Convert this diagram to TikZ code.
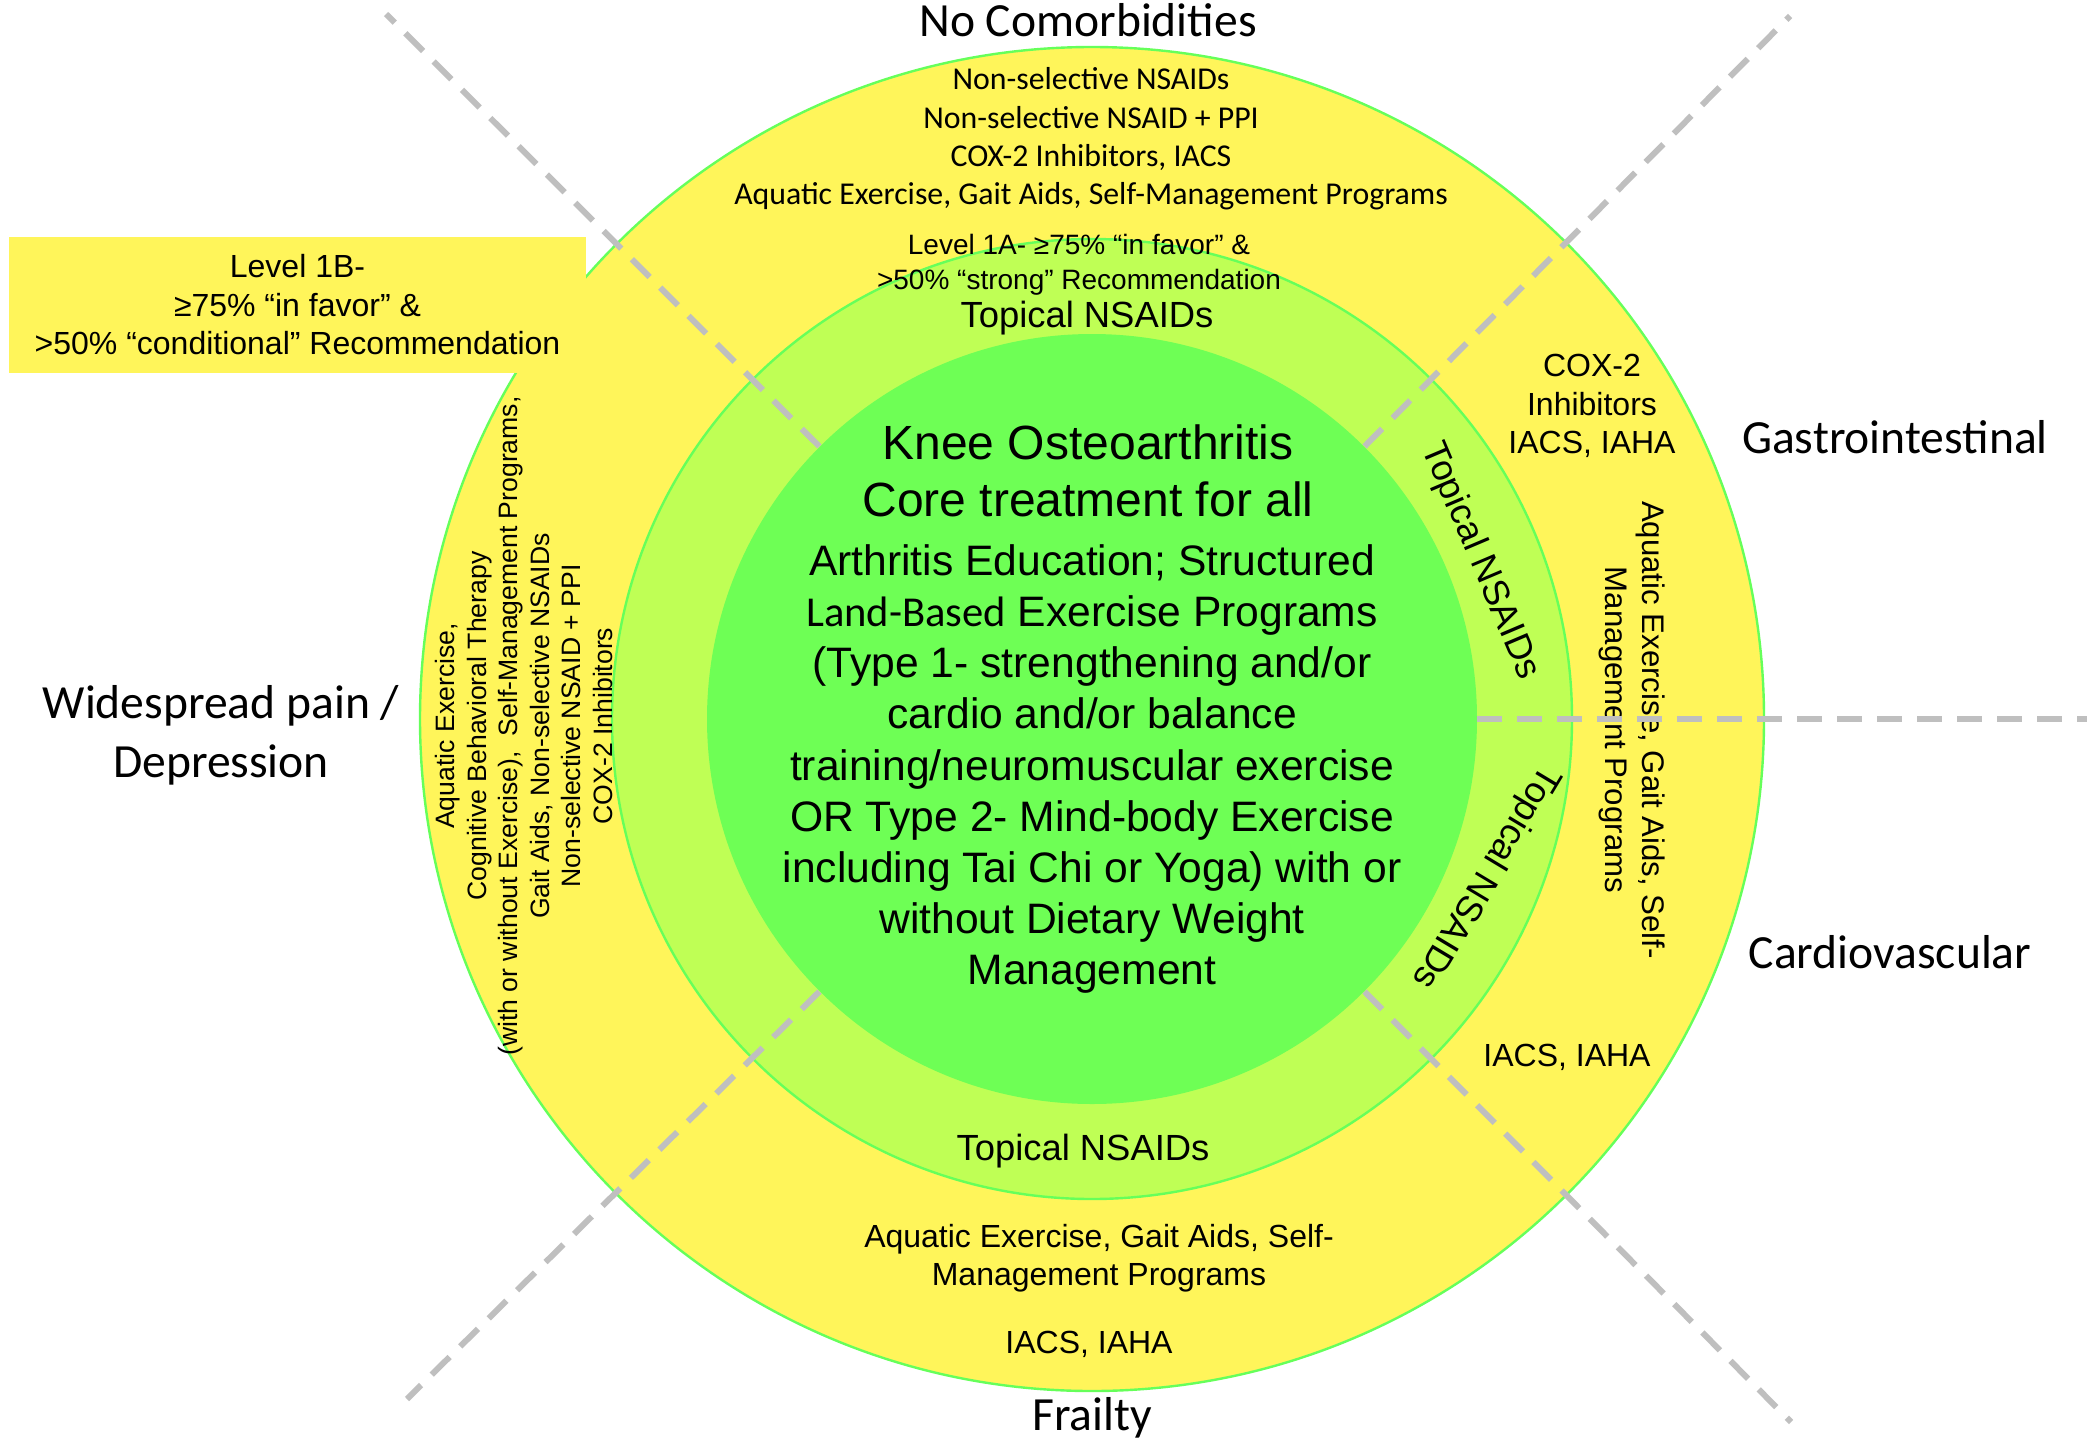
\documentclass[tikz,border=0pt]{standalone}
\usepackage{fontspec}
\setmainfont{Liberation Sans}
\newfontfamily\calibri{Carlito}
\definecolor{ringyellow}{HTML}{FFF55A}
\definecolor{ringlight}{HTML}{BFFF55}
\definecolor{ringcore}{HTML}{6EFF55}
\definecolor{ringedge}{HTML}{66FF5A}
\definecolor{dashgray}{HTML}{BFBFBF}
\begin{document}
\begin{tikzpicture}[x=0.5pt,y=-0.5pt,
  ring/.style={circle, inner sep=0pt, draw=ringedge, line width=1.2pt},
  divider/.style={draw=dashgray, line width=3pt, dash pattern=on 12.5pt off 7.5pt},
  lbl/.style={font=\calibri\fontsize{23.8pt}{29.5pt}\selectfont, align=center, inner sep=0pt},
  txt/.style={align=center, inner sep=0pt},
  topical/.style={txt, font=\fontsize{18.2pt}{21.8pt}\selectfont},
  small/.style={txt, font=\fontsize{16pt}{19.25pt}\selectfont},
]
\useasboundingbox[fill=white] (0,0) rectangle (2087,1440);

% rings
\node[ring, fill=ringyellow, minimum size=672pt] (outer) at (1092,719) {};
\node[ring, fill=ringlight, minimum size=480pt] (middle) at (1092,719) {};
\node[circle, inner sep=0pt, fill=ringcore, minimum size=385pt] (inner) at (1092,719) {};

% level 1B box
\node[fill=ringyellow, inner sep=0pt, minimum width=288.5pt, minimum height=68pt,
      align=center, font=\fontsize{16pt}{19.25pt}\selectfont] (lvlB) at (297.5,305)
  {Level 1B-\\≥75\% “in favor” \&\\>50\% “conditional” Recommendation};

% outer labels
\node[lbl] (noCom) at (1088,20) {No Comorbidities};
\node[lbl] (gastro) at (1895,437) {Gastrointestinal};
\node[lbl] (cardio) at (1890,952) {Cardiovascular};
\node[lbl] (frail) at (1092,1418) {Frailty};
\node[lbl] (wide) at (221,735) {Widespread pain /\\Depression};

% top of outer ring
\node[txt, font=\calibri\fontsize{15.9pt}{19.2pt}\selectfont] (topList) at (1091,139)
  {Non-selective NSAIDs\\Non-selective NSAID + PPI\\COX-2 Inhibitors, IACS\\Aquatic Exercise, Gait Aids, Self-Management Programs};
\node[txt, font=\fontsize{14pt}{17.3pt}\selectfont] (lvlA) at (1079,265)
  {Level 1A- ≥75\% “in favor” \&\\>50\% “strong” Recommendation};

% topical NSAIDs
\node[topical] (topTop) at (1087,318) {Topical NSAIDs};
\node[topical] (topBot) at (1083,1151) {Topical NSAIDs};
\node[topical, rotate=-67] (topRU) at (1480,561) {Topical NSAIDs};
\node[topical, rotate=-121] (topRL) at (1485,877) {Topical NSAIDs};

% core
\node[txt, font=\fontsize{24pt}{28.5pt}\selectfont] (title) at (1088,471)
  {Knee Osteoarthritis\\Core treatment for all};
\node[txt, font=\fontsize{21.3pt}{25.6pt}\selectfont] (core) at (1092,769)
  {Arthritis Education; Structured\\{\calibri Land-Based} Exercise Programs\\(Type 1- strengthening and/or\\cardio and/or balance\\training/neuromuscular exercise\\OR Type 2- Mind-body Exercise\\including Tai Chi or Yoga) with or\\without Dietary Weight\\Management};

% right side
\node[small] (gi) at (1592,406) {COX-2\\Inhibitors\\IACS, IAHA};
\node[small, rotate=-90, font=\fontsize{15.6pt}{18.5pt}\selectfont] (cvAq) at (1632,730)
  {Aquatic Exercise, Gait Aids, Self-\\Management Programs};
\node[small] (cvIa) at (1567,1057) {IACS, IAHA};

% bottom
\node[small] (frAq) at (1099,1258) {Aquatic Exercise, Gait Aids, Self-\\Management Programs};
\node[small] (frIa) at (1089,1344) {IACS, IAHA};

% left
\node[txt, rotate=90, font=\fontsize{13.3pt}{15.8pt}\selectfont] (leftList) at (524,726)
  {Aquatic Exercise,\\Cognitive Behavioral Therapy\\(with or without Exercise),\ \ Self-Management Programs,\\Gait Aids, Non-selective NSAIDs\\Non-selective NSAID + PPI\\COX-2 Inhibitors};

% dividers (drawn on top)
\coordinate (tlEnd) at (386,14);
\coordinate (trEnd) at (1790,16);
\coordinate (blEnd) at (407,1399);
\coordinate (brEnd) at (1791,1422);
\coordinate (hEnd) at (2087,719);
\draw[divider] (inner.135) -- (tlEnd);
\draw[divider] (inner.45) -- (trEnd);
\draw[divider] (inner.225) -- (blEnd);
\draw[divider] (inner.315) -- (brEnd);
\draw[divider] (inner.0) -- (hEnd);
\end{tikzpicture}
\end{document}
